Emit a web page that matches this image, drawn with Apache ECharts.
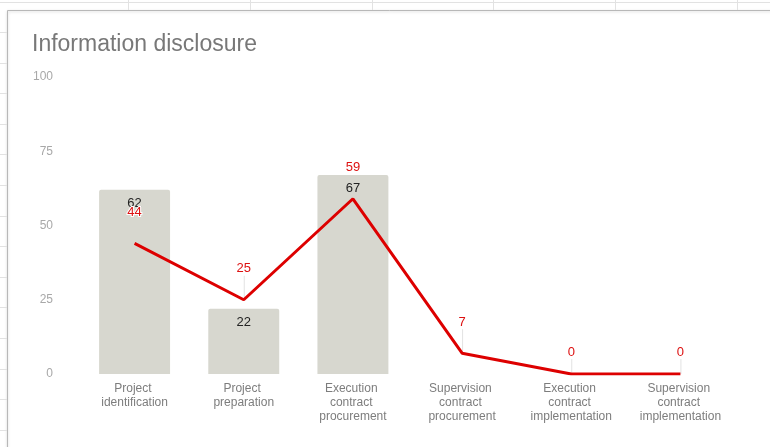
<!DOCTYPE html>
<html>
<head>
<meta charset="utf-8">
<title>Information disclosure</title>
<script src="https://cdn.jsdelivr.net/npm/echarts@6/dist/echarts.min.js"></script>
<style>
  html, body { margin: 0; padding: 0; background: #ffffff; }
  #chart { width: 770px; height: 447px; }
</style>
</head>
<body>
<div id="chart"></div>
<script>
// Stages of the project cycle
const categories = [
  'Project identification',
  'Project preparation',
  'Execution contract procurement',
  'Supervision contract procurement',
  'Execution contract implementation',
  'Supervision contract implementation'
];
// Grey columns
const barValues = [62, 22, 67, 0, 0, 0];
// Red line
const lineValues = [44, 25, 59, 7, 0, 0];
// Value axis ticks
const yTicks = [0, 25, 50, 75, 100];

const chart = echarts.init(document.getElementById('chart'), null, { renderer: 'canvas' });

// Spreadsheet cell lines around the embedded chart
const sheetLines = [];
const colX = [128, 250, 372, 493, 615, 737];
colX.forEach(function (x) {
  sheetLines.push({ type: 'line', shape: { x1: x + 0.5, y1: 0, x2: x + 0.5, y2: 10 }, style: { stroke: '#e2e2e2', lineWidth: 1 }, silent: true });
});
sheetLines.push({ type: 'line', shape: { x1: 0, y1: 2.5, x2: 770, y2: 2.5 }, style: { stroke: '#e2e2e2', lineWidth: 1 }, silent: true });
for (let y = 32; y < 447; y += 30.6) {
  const yy = Math.round(y) + 0.5;
  sheetLines.push({ type: 'line', shape: { x1: 0, y1: yy, x2: 7, y2: yy }, style: { stroke: '#e2e2e2', lineWidth: 1 }, silent: true });
}
// Chart frame
sheetLines.push({
  type: 'rect', shape: { x: 7.5, y: 10.5, width: 800, height: 500 },
  style: { fill: '#ffffff', stroke: '#b8b8b8', lineWidth: 1, shadowColor: 'rgba(0,0,0,0.18)', shadowBlur: 3, shadowOffsetY: 1 },
  silent: true, z: -10
});

const STEM = { normal: 24, zero: 15 };

const lineData = lineValues.map(function (v) {
  return {
    value: v,
    label: { distance: v === 0 ? STEM.zero : STEM.normal }
  };
});

chart.setOption({
  backgroundColor: '#ffffff',
  animation: false,
  graphic: sheetLines,
  title: {
    text: 'Information disclosure',
    left: 27,
    top: 28,
    textStyle: { fontFamily: 'Liberation Sans, Arial, sans-serif', fontSize: 23, fontWeight: 'normal', color: '#787878' }
  },
  grid: { left: 80, right: 35, top: 77, bottom: 73, containLabel: false },
  xAxis: {
    type: 'category',
    data: categories,
    axisLine: { show: false },
    axisTick: { show: false },
    axisLabel: {
      interval: 0,
      margin: 8,
      width: 96,
      overflow: 'break',
      lineHeight: 14,
      fontFamily: 'Liberation Sans, Arial, sans-serif',
      fontSize: 12,
      color: '#7d7d7d'
    }
  },
  yAxis: {
    type: 'value',
    min: yTicks[0],
    max: yTicks[yTicks.length - 1],
    interval: yTicks[1] - yTicks[0],
    splitLine: { show: false },
    axisLine: { show: false },
    axisTick: { show: false },
    axisLabel: {
      margin: 27,
      fontFamily: 'Liberation Sans, Arial, sans-serif',
      fontSize: 12,
      color: '#a8a8a8'
    }
  },
  series: [
    {
      name: 'Bars',
      type: 'bar',
      data: barValues,
      barWidth: '65%',
      itemStyle: { color: '#d7d7cf', borderRadius: [2, 2, 0, 0] },
      label: {
        show: true,
        position: 'insideTop',
        distance: 7,
        fontFamily: 'Liberation Sans, Arial, sans-serif',
        fontSize: 13,
        color: '#222222',
        formatter: function (p) { return p.value === 0 ? '' : String(p.value); }
      },
      z: 2
    },
    {
      // annotation stems joining each red label to its point (hidden inside a column)
      name: 'Stems',
      type: 'custom',
      data: lineValues.map(function (v, i) { return [i, v]; }),
      renderItem: function (params, api) {
        const i = api.value(0);
        const v = api.value(1);
        if (v < barValues[i]) { return null; }
        const p = api.coord([i, v]);
        const len = v === 0 ? STEM.zero : STEM.normal;
        return {
          type: 'line',
          shape: { x1: p[0] + 0.5, y1: p[1], x2: p[0] + 0.5, y2: p[1] - len },
          style: { stroke: '#e2e2e2', lineWidth: 1 }
        };
      },
      silent: true,
      z: 3
    },
    {
      name: 'Line',
      type: 'line',
      data: lineData,
      symbol: 'circle',
      symbolSize: 1,
      showSymbol: true,
      itemStyle: { color: 'rgba(0,0,0,0)' },
      lineStyle: { color: '#dd0000', width: 3 },
      clip: true,
      label: {
        show: true,
        position: 'top',
        fontFamily: 'Liberation Sans, Arial, sans-serif',
        fontSize: 13,
        color: '#dd1111',
        textBorderColor: '#ffffff',
        textBorderWidth: 2
      },
      z: 4
    }
  ]
});
</script>
</body>
</html>
